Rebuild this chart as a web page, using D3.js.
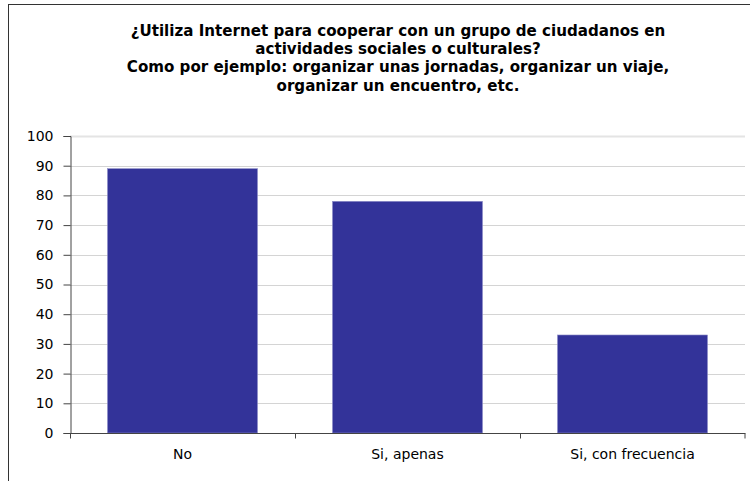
<!DOCTYPE html>
<html>
<head>
<meta charset="utf-8">
<script src="https://cdn.jsdelivr.net/npm/d3@7/dist/d3.min.js"></script>
<style>
  html, body { margin: 0; padding: 0; background: #fff; }
  svg { display: block; }
</style>
</head>
<body>
<svg id="chart" width="750" height="481"></svg>
<script>
// Survey answers and percentages
const categories = ["No", "Si, apenas", "Si, con frecuencia"];
const values = [89, 78, 33];
const yTicks = [0, 10, 20, 30, 40, 50, 60, 70, 80, 90, 100];
const titleLines = [
  "¿Utiliza Internet para cooperar con un grupo de ciudadanos en",
  "actividades sociales o culturales?",
  "Como por ejemplo: organizar unas jornadas, organizar un viaje,",
  "organizar un encuentro, etc."
];

const svg = d3.select("#chart");
const font = "Verdana, 'DejaVu Sans', sans-serif";

// Outer frame (runs off the right and bottom edges)
svg.append("rect")
  .attr("x", 8.5).attr("y", 4.5)
  .attr("width", 760).attr("height", 490)
  .attr("fill", "none").attr("stroke", "#333").attr("stroke-width", 1);

const plot = { left: 70, right: 745, top: 136, bottom: 433 };

const x = d3.scaleBand()
  .domain(categories)
  .range([plot.left, plot.right])
  .paddingInner(1 / 3)
  .paddingOuter(1 / 6);

const y = d3.scaleLinear()
  .domain([0, 100])
  .range([plot.bottom, plot.top]);

// Gridlines
svg.append("g")
  .selectAll("line")
  .data(yTicks.filter(d => d > 0))
  .join("line")
  .attr("x1", plot.left).attr("x2", plot.right)
  .attr("y1", d => Math.round(y(d)) + 0.5)
  .attr("y2", d => Math.round(y(d)) + 0.5)
  .attr("stroke", d => d === 100 ? "#e4e4e4" : "#d4d4d4")
  .attr("stroke-width", d => d === 100 ? 2 : 1);

// Bars
svg.append("g")
  .selectAll("rect")
  .data(categories.map((c, i) => ({ c, v: values[i] })))
  .join("rect")
  .attr("x", d => x(d.c))
  .attr("y", d => y(d.v))
  .attr("width", x.bandwidth())
  .attr("height", d => y(0) - y(d.v))
  .attr("fill", "#333399")
  .attr("stroke", "#8d8dc6")
  .attr("stroke-width", 0.6);

// Y axis
const yAxis = d3.axisLeft(y).tickValues(yTicks).tickSize(7).tickPadding(10).tickFormat(d3.format("d"));
const gy = svg.append("g")
  .attr("transform", `translate(${plot.left + 0.5},0)`)
  .call(yAxis);
gy.select(".domain").attr("stroke", "#444");
gy.selectAll(".tick line").attr("stroke", "#444");
gy.selectAll(".tick text")
  .attr("font-family", font).attr("font-size", 14).attr("fill", "#000");

// X axis: ticks at category boundaries
const gx = svg.append("g")
  .attr("transform", `translate(0,${plot.bottom + 0.5})`);
gx.append("line")
  .attr("x1", plot.left).attr("x2", plot.right + 0.5)
  .attr("stroke", "#444");
const step = x.step();
gx.selectAll("line.tk")
  .data(d3.range(categories.length + 1))
  .join("line")
  .attr("class", "tk")
  .attr("x1", i => plot.left + 0.5 + i * step - (i === categories.length ? 0.5 : 0))
  .attr("x2", i => plot.left + 0.5 + i * step - (i === categories.length ? 0.5 : 0))
  .attr("y1", 0).attr("y2", 5)
  .attr("stroke", "#444");
gx.selectAll("text")
  .data(categories)
  .join("text")
  .attr("x", d => x(d) + x.bandwidth() / 2)
  .attr("y", 25.5)
  .attr("text-anchor", "middle")
  .attr("font-family", font).attr("font-size", 14)
  .attr("fill", "#000")
  .text(d => d);

// Title, sized so the first line spans the same width as the plot heading block
const title = svg.append("g")
  .selectAll("text")
  .data(titleLines)
  .join("text")
  .attr("x", 398)
  .attr("y", (d, i) => 36 + i * 18.2)
  .attr("text-anchor", "middle")
  .attr("font-family", font).attr("font-size", 14).attr("font-weight", "bold")
  .attr("fill", "#000")
  .text(d => d);
const w0 = title.node().getComputedTextLength();
title.attr("font-size", 14 * 535 / w0);
</script>
</body>
</html>
